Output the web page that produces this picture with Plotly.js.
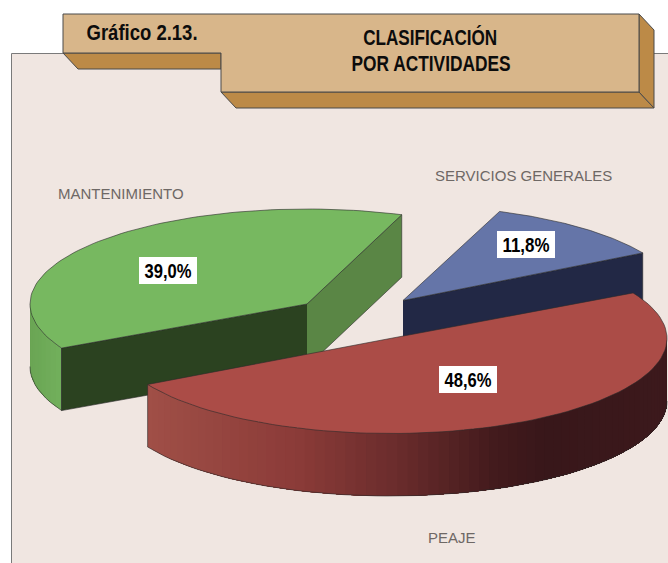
<!DOCTYPE html>
<html><head><meta charset="utf-8">
<script src="https://cdn.plot.ly/plotly-3.0.1.min.js"></script>
<style>html,body{margin:0;padding:0;background:#fff;overflow:hidden}#c{width:668px;height:563px}</style>
</head><body><div id="c"></div>
<script>
// ---- data ----
const categories = ['SERVICIOS GENERALES', 'PEAJE', 'MANTENIMIENTO'];
const values = [11.8, 48.6, 39.0];
const valueLabels = ['11,8%', '48,6%', '39,0%'];
const chartLabel = 'Gráfico 2.13.';
const chartTitle = ['CLASIFICACIÓN', 'POR ACTIVIDADES'];

// ---- projection of the tilted pie ----
const RX = 277, RY = 95, DEPTH = 62.5;
const START = -70;                      // where the first slice begins
const EDGE_SHIFT = [[0.4, -2.8], [-1.4, 2.3], [3.6, 0]];   // perspective correction of each slice's edges, degrees
const CENTRES = [[403, 300.5], [390, 338.5], [307, 304]];  // exploded slice vertices
const TOP = ['#6575a8', '#ab4c47', '#77b860'];
const FACE = ['#222845', null, '#2b4220'];
const EDGE = '#2a2a2a';
const RED_WALL = [[148,[160,79,71]],[297,[139,59,56]],[397,[106,44,44]],[497,[66,26,28]],[547,[56,23,26]],[668,[60,25,28]]];
const GREEN_WALL = [[30,[106,165,84]],[62,[114,176,92]]];

const total = values.reduce((a, b) => a + b, 0);
const ranges = []; let cum = 0;
values.forEach((v, i) => {
  const a = START + cum / total * 360; cum += v;
  const b = START + cum / total * 360;
  ranges.push([a + EDGE_SHIFT[i][0], b + EDGE_SHIFT[i][1]]);
});
const pt = (i, deg, dz = 0) => {
  const t = deg * Math.PI / 180;
  return [CENTRES[i][0] + RX * Math.cos(t), CENTRES[i][1] + RY * Math.sin(t) + dz];
};
const arc = (i, a, b, dz = 0, n = 80) => {
  const out = []; for (let k = 0; k <= n; k++) out.push(pt(i, a + (b - a) * k / n, dz)); return out;
};
const traces = [];
const poly = (pts, fill, line, w) => traces.push({
  x: pts.map(p => p[0]), y: pts.map(p => p[1]), type: 'scatter', mode: 'lines', fill: 'toself',
  fillcolor: fill, line: {color: line || fill, width: w === undefined ? 0.7 : w}, hoverinfo: 'skip', showlegend: false
});
const ramp = (stops, x) => {
  let k = 0; while (k < stops.length - 2 && x > stops[k + 1][0]) k++;
  const [x0, c0] = stops[k], [x1, c1] = stops[k + 1];
  const f = Math.max(0, Math.min(1, (x - x0) / (x1 - x0)));
  return 'rgb(' + c0.map((c, j) => Math.round(c + (c1[j] - c) * f)).join(',') + ')';
};
// wall painted as overlapping bands: each band runs to the wall's far end, so no seams show
const wall = (i, a, b, stops, n) => {
  const lower = arc(i, a, b, DEPTH, n), upper = arc(i, a, b, 0, n);
  for (let k = 0; k < n; k++) {
    const pts = upper.slice(k).concat(lower.slice(k).reverse());
    traces.push({x: pts.map(p => p[0]), y: pts.map(p => p[1]), type: 'scatter', mode: 'lines', fill: 'toself',
      fillcolor: ramp(stops, (upper[k][0] + upper[k + 1][0]) / 2), line: {width: 0}, hoverinfo: 'skip', showlegend: false});
  }
  traces.push({x: lower.map(p => p[0]), y: lower.map(p => p[1]), type: 'scatter', mode: 'lines',
    line: {color: EDGE, width: 0.6}, hoverinfo: 'skip', showlegend: false});
  const s0 = upper[0], s1 = lower[0];
  traces.push({x: [s0[0], s1[0]], y: [s0[1], s1[1]], type: 'scatter', mode: 'lines',
    line: {color: EDGE, width: 0.6}, hoverinfo: 'skip', showlegend: false});
};
const topFace = (i) => {
  const c = CENTRES[i];
  poly([c, ...arc(i, ranges[i][0], ranges[i][1]), c], TOP[i], EDGE, 0.6);
};
const flat = (i, deg, fill) => {
  const c = CENTRES[i], p = pt(i, deg);
  poly([c, p, [p[0], p[1] + DEPTH], [c[0], c[1] + DEPTH]], fill, EDGE, 0.6);
};

// mantenimiento
flat(2, ranges[2][1], '#5a8645');
wall(2, ranges[2][0], 180, GREEN_WALL, 10);
flat(2, ranges[2][0], FACE[2]);
topFace(2);
// servicios generales
flat(0, ranges[0][1], FACE[0]);
topFace(0);
// peaje
wall(1, ranges[1][1], 0, RED_WALL, 70);
topFace(1);

// ---- decoration ----
const INK = '#4a4a4a';
const shp = (path, fill, color) => ({type: 'path', path, fillcolor: fill, xref: 'x', yref: 'y',
  line: {color: color || INK, width: 1}, layer: 'below'});
const TAB = '#d8b68a', TAB_SIDE = '#bc8a47';
const shapes = [
  {type: 'rect', xref: 'x', yref: 'y', x0: 11.5, x1: 680, y0: 53.5, y1: 600, fillcolor: '#f0e6e1',
   line: {color: '#7a7a7a', width: 1}, layer: 'below'},
  shp('M63,53 L78,69 L221,69 L221,53 Z', TAB_SIDE),
  shp('M221,92 L236,108 L654,108 L639,92 Z', TAB_SIDE),
  shp('M639,14 L654,30 L654,108 L639,92 Z', TAB_SIDE),
  shp('M63,14 L639,14 L639,92 L221,92 L221,53 L63,53 Z', TAB)
];

const SANS = '"Liberation Sans",Arial,sans-serif';
const note = (text, x, y, font, extra) => Object.assign({text, x, y, xref: 'x', yref: 'y', showarrow: false,
  xanchor: 'center', yanchor: 'middle', font}, extra || {});
const headFont = {family: SANS, size: 22, color: '#0c0c0c', weight: 700};
const nameFont = {family: SANS, size: 15, color: '#6e6865'};
const valFont = {family: SANS, size: 19.5, color: '#000', weight: 700};
const NAME_POS = [[523, 175.5], [451.5, 537.5], [121, 193.5]];
const VALUE_POS = [[526, 244.5], [468, 379.5], [168, 270.5]];
const annotations = [
  note(chartLabel, 141.5, 32.5, headFont),
  note(chartTitle[0], 430, 37, headFont),
  note(chartTitle[1], 430.5, 63, headFont)
];
categories.forEach((c, i) => annotations.push(note(c, NAME_POS[i][0], NAME_POS[i][1], nameFont)));
valueLabels.forEach((v, i) => annotations.push(note(v, VALUE_POS[i][0], VALUE_POS[i][1], valFont,
  {bgcolor: '#ffffff', width: 58, height: 27, borderpad: 0, borderwidth: 0, align: 'center', valign: 'middle'})));

// the reference's type is condensed: fit each text to its measured width
const FIT_WIDTH = {'Gráfico 2.13.': 111, 'CLASIFICACIÓN': 134, 'POR ACTIVIDADES': 159,
                   '11,8%': 47, '48,6%': 47, '39,0%': 47};

Plotly.newPlot('c', traces, {
  width: 668, height: 563, margin: {l: 0, r: 0, t: 0, b: 0}, paper_bgcolor: '#ffffff', plot_bgcolor: 'rgba(0,0,0,0)',
  xaxis: {range: [0, 668], visible: false, fixedrange: true},
  yaxis: {range: [563, 0], visible: false, fixedrange: true},
  showlegend: false, hovermode: false, shapes, annotations
}, {displayModeBar: false, staticPlot: true}).then(() => {
  document.querySelectorAll('#c .annotation-text').forEach(el => {
    const w = FIT_WIDTH[el.textContent];
    if (w) { el.setAttribute('textLength', w); el.setAttribute('lengthAdjust', 'spacingAndGlyphs'); }
  });
});
</script></body></html>
